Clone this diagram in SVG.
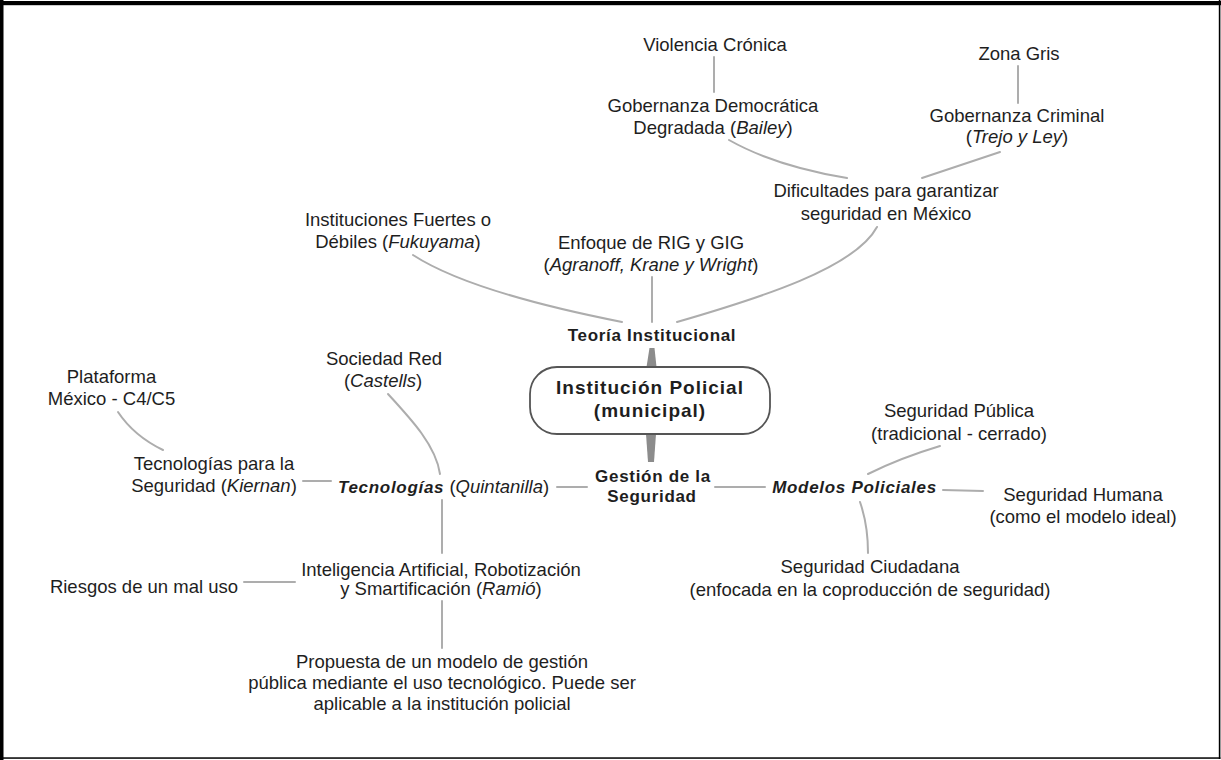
<svg xmlns="http://www.w3.org/2000/svg" width="1221" height="760" viewBox="0 0 1221 760">
<style>
text{font-family:"Liberation Sans",Arial,sans-serif;fill:#1e1e1e}
.r{font-size:18.5px}
.b{font-size:17px;font-weight:bold;letter-spacing:0.7px}
.bi{font-size:17px;font-weight:bold;font-style:italic;letter-spacing:0.7px}
.m{text-anchor:middle}
.i{font-style:italic}
.c{fill:none;stroke:#adadad;stroke-width:2;stroke-linecap:round}
.w{fill:#8c8c8c}
</style>
<rect x="0" y="0" width="1221" height="760" fill="#fff"/>
<g id="frame">
<rect x="0" y="1" width="1221" height="4.2" fill="#000"/>
<rect x="0" y="0" width="3.5" height="760" fill="#000"/>
<rect x="1218.8" y="0" width="1.6" height="759" fill="#000"/>
<rect x="0" y="757.3" width="1220.4" height="1.5" fill="#000"/>
</g>
<g id="connectors">
<path class="c" d="M714,57 L714,92"/>
<path class="c" d="M1018,66 L1018,103"/>
<path class="c" d="M729,140 Q775,166 847,178"/>
<path class="c" d="M1000,152 Q958,166 922,178"/>
<path class="c" d="M877,227 C855,268 760,298 677,322"/>
<path class="c" d="M413,255 Q470,292 622,322"/>
<path class="c" d="M652,277 L652,322"/>
<path class="c" d="M388,394 C412,420 436,446 440,474"/>
<path class="c" d="M118,412 Q134,436 163,450"/>
<path class="c" d="M303,481 L331,481"/>
<path class="c" d="M557,487 L587,487"/>
<path class="c" d="M715,487 L765,487"/>
<path class="c" d="M943,490 L983,491"/>
<path class="c" d="M868,474 Q900,458 940,446"/>
<path class="c" d="M860,502 Q868,525 868,553"/>
<path class="c" d="M442,500 L442,553"/>
<path class="c" d="M244,582 L295,582"/>
<path class="c" d="M442,601 L442,648"/>
<polygon class="w" points="649.5,348 654.5,348 656.5,367 646.5,367"/>
<polygon class="w" points="646,434 656,434 654,462 648,462"/>
</g>
<g id="n-central">
<rect x="530" y="367" width="240" height="67" rx="27" ry="27" fill="#fff" stroke="#555" stroke-width="1.8"/>
<text class="m" x="650" y="394" style="font-size:19px;font-weight:bold;letter-spacing:1px">Institución Policial</text>
<text class="m" x="650" y="417" style="font-size:19px;font-weight:bold;letter-spacing:1px">(municipal)</text>
</g>
<g id="n-teoria"><text class="b m" x="652" y="341">Teoría Institucional</text></g>
<g id="n-gestion">
<text class="b m" x="653" y="482">Gestión de la</text>
<text class="b m" x="652" y="502">Seguridad</text>
</g>
<g id="n-violencia"><text class="r m" x="715" y="51">Violencia Crónica</text></g>
<g id="n-democratica">
<text class="r m" x="713" y="112">Gobernanza Democrática</text>
<text class="r m" x="713" y="134">Degradada (<tspan class="i">Bailey</tspan>)</text>
</g>
<g id="n-zona"><text class="r m" x="1019" y="60">Zona Gris</text></g>
<g id="n-criminal">
<text class="r m" x="1017" y="122">Gobernanza Criminal</text>
<text class="r m" x="1017" y="143">(<tspan class="i">Trejo y Ley</tspan>)</text>
</g>
<g id="n-dificultades">
<text class="r m" x="886" y="197">Dificultades para garantizar</text>
<text class="r m" x="886" y="220">seguridad en México</text>
</g>
<g id="n-fukuyama">
<text class="r m" x="398" y="226">Instituciones Fuertes o</text>
<text class="r m" x="398" y="248">Débiles (<tspan class="i">Fukuyama</tspan>)</text>
</g>
<g id="n-rig">
<text class="r m" x="651" y="249">Enfoque de RIG y GIG</text>
<text class="r m" x="651" y="271">(<tspan class="i">Agranoff, Krane y Wright</tspan>)</text>
</g>
<g id="n-castells">
<text class="r m" x="384" y="365">Sociedad Red</text>
<text class="r m" x="383" y="387">(<tspan class="i">Castells</tspan>)</text>
</g>
<g id="n-plataforma">
<text class="r m" x="111.5" y="383">Plataforma</text>
<text class="r m" x="111.5" y="405">México - C4/C5</text>
</g>
<g id="n-kiernan">
<text class="r m" x="214" y="470">Tecnologías para la</text>
<text class="r m" x="214" y="492">Seguridad (<tspan class="i">Kiernan</tspan>)</text>
</g>
<g id="n-tecnologias">
<text x="338" y="493"><tspan class="bi">Tecnologías</tspan><tspan class="r"> (</tspan><tspan class="r i">Quintanilla</tspan><tspan class="r">)</tspan></text>
</g>
<g id="n-modelos"><text class="bi m" x="854.5" y="493">Modelos Policiales</text></g>
<g id="n-publica">
<text class="r m" x="959" y="417">Seguridad Pública</text>
<text class="r m" x="959" y="440">(tradicional - cerrado)</text>
</g>
<g id="n-humana">
<text class="r m" x="1083" y="501">Seguridad Humana</text>
<text class="r m" x="1083" y="523">(como el modelo ideal)</text>
</g>
<g id="n-ciudadana">
<text class="r m" x="870" y="573">Seguridad Ciudadana</text>
<text class="r m" x="870" y="596">(enfocada en la coproducción de seguridad)</text>
</g>
<g id="n-ia">
<text class="r m" x="441" y="576">Inteligencia Artificial, Robotización</text>
<text class="r m" x="441" y="595">y Smartificación (<tspan class="i">Ramió</tspan>)</text>
</g>
<g id="n-riesgos"><text class="r m" x="144" y="593">Riesgos de un mal uso</text></g>
<g id="n-propuesta">
<text class="r m" x="442" y="668">Propuesta de un modelo de gestión</text>
<text class="r m" x="442" y="689">pública mediante el uso tecnológico. Puede ser</text>
<text class="r m" x="442" y="710">aplicable a la institución policial</text>
</g>
</svg>
